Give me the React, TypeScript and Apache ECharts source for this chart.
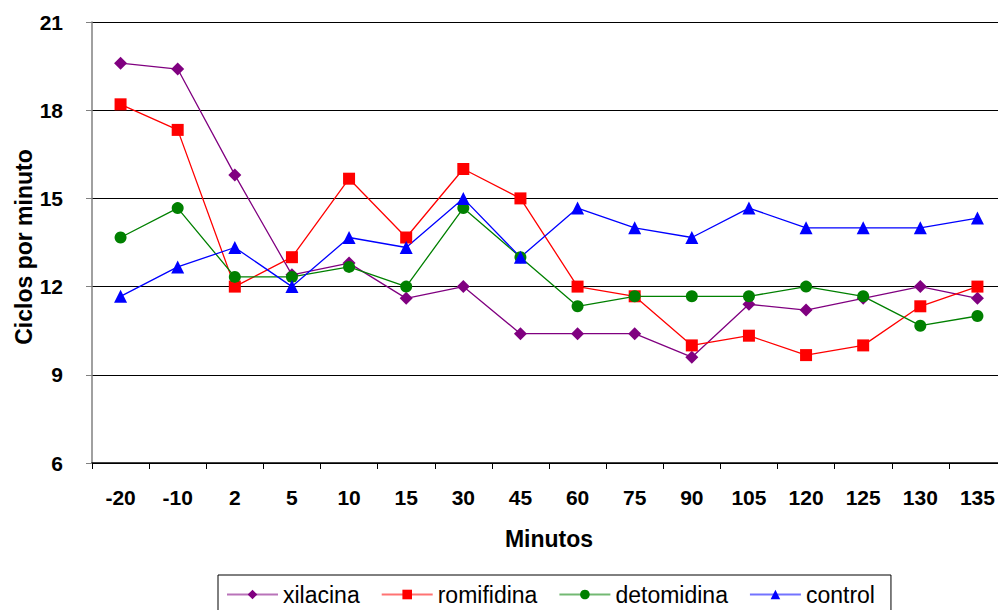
import React, { useEffect, useRef } from "react";
import * as echarts from "echarts";

const categories = ["-20", "-10", "2", "5", "10", "15", "30", "45", "60", "75", "90", "105", "120", "125", "130", "135"];
const xilacina = [19.6, 19.4, 15.8, 12.4, 12.8, 11.6, 12.0, 10.4, 10.4, 10.4, 9.6, 11.4, 11.2, 11.6, 12.0, 11.6];
const romifidina = [18.2, 17.33, 12.0, 13.0, 15.67, 13.67, 16.0, 15.0, 12.0, 11.67, 10.0, 10.33, 9.67, 10.0, 11.33, 12.0];
const detomidina = [13.67, 14.67, 12.33, 12.33, 12.67, 12.0, 14.67, 13.0, 11.33, 11.67, 11.67, 11.67, 12.0, 11.67, 10.67, 11.0];
const control = [11.67, 12.67, 13.33, 12.0, 13.67, 13.33, 15.0, 13.0, 14.67, 14.0, 13.67, 14.67, 14.0, 14.0, 14.0, 14.33];
const seriesNames = ["xilacina", "romifidina", "detomidina", "control"];

export default function App() {
  const ref = useRef<HTMLDivElement>(null);
  useEffect(() => {
    if (!ref.current) return;
    const chart = echarts.init(ref.current, undefined, { renderer: "svg" });
    const font = "'Liberation Sans', Arial, sans-serif";
    const mk = (name: string, data: number[], color: string, symbol: string, size: number) => ({
      name,
      type: "line",
      data,
      symbol,
      symbolSize: size,
      showAllSymbol: true,
      lineStyle: { color, width: 1.3 },
      itemStyle: { color },
    });
    chart.setOption({
      animation: false,
      textStyle: { fontFamily: font },
      grid: { left: 92, right: -8, top: 22, bottom: 147, containLabel: false, outerBoundsMode: "none" },
      xAxis: {
        type: "category",
        data: categories,
        boundaryGap: true,
        name: "Minutos",
        nameLocation: "middle",
        nameGap: 64,
        nameMoveOverlap: false,
        nameTextStyle: { fontSize: 23, fontWeight: "bold", color: "#000", fontFamily: font },
        axisLine: { lineStyle: { color: "#000", width: 1.5 } },
        axisTick: { show: true, length: 6, alignWithLabel: false, lineStyle: { color: "#000" } },
        axisLabel: { fontSize: 21, fontWeight: "bold", color: "#000", margin: 24, interval: 0, fontFamily: font },
        splitLine: { show: false },
      },
      yAxis: {
        type: "value",
        min: 6,
        max: 21,
        interval: 3,
        name: "Ciclos por minuto",
        nameLocation: "middle",
        nameRotate: 90,
        nameGap: 57,
        nameMoveOverlap: false,
        nameTextStyle: { fontSize: 23, fontWeight: "bold", color: "#000", fontFamily: font, padding: [0, 9, 0, 0] },
        axisLine: { show: true, lineStyle: { color: "#808080", width: 1.5 } },
        axisTick: { show: true, length: 6, lineStyle: { color: "#808080" } },
        axisLabel: { fontSize: 21, fontWeight: "bold", color: "#000", margin: 29, fontFamily: font },
        splitLine: { show: true, lineStyle: { color: "#000", width: 1.2 } },
      },
      legend: {
        data: seriesNames,
        left: 218,
        top: 575,
        orient: "horizontal",
        padding: [8, 16, 8, 8],
        itemWidth: 51,
        itemHeight: 12,
        itemGap: 21,
        borderColor: "#000",
        borderWidth: 1,
        borderRadius: 0,
        lineStyle: { opacity: 0.55 },
        textStyle: { fontSize: 23, color: "#000", fontFamily: font },
      },
      series: [
        mk("xilacina", xilacina, "#800080", "diamond", 13),
        mk("romifidina", romifidina, "#FF0000", "rect", 12),
        mk("detomidina", detomidina, "#008000", "circle", 12),
        mk("control", control, "#0000FF", "triangle", 13),
      ],
    });
    return () => chart.dispose();
  }, []);
  return (
    <div
      ref={ref}
      style={{ position: "fixed", left: 0, top: 0, width: 998, height: 610, background: "#fff" }}
    />
  );
}
